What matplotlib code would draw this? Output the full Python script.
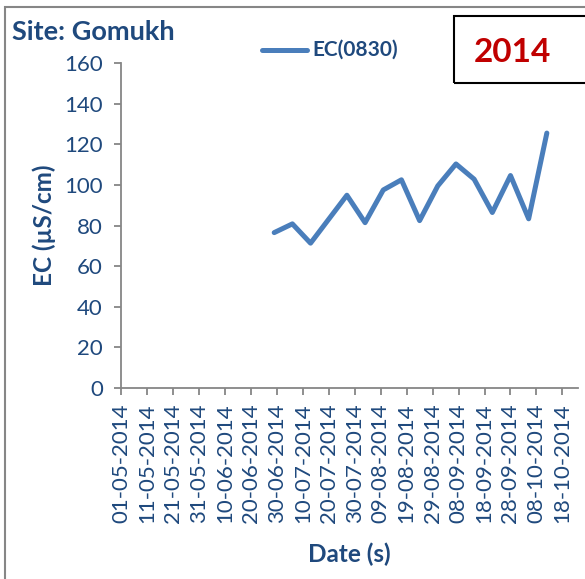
import matplotlib
matplotlib.use("Agg")
import matplotlib.pyplot as plt
import matplotlib.dates as mdates
from matplotlib.patches import Rectangle
from matplotlib.lines import Line2D
import pandas as pd

plt.rcParams['font.family'] = ['Lato', 'DejaVu Sans']

dates = ["2014-06-29", "2014-07-06", "2014-07-13", "2014-07-27", "2014-08-03",
         "2014-08-10", "2014-08-17", "2014-08-24", "2014-08-31", "2014-09-07",
         "2014-09-14", "2014-09-21", "2014-09-28", "2014-10-05", "2014-10-12"]
ec_values = [76.5, 80.8, 71.3, 94.9, 81.4, 97.5, 102.5, 82.4, 99.5, 110.3,
             102.8, 86.4, 104.6, 83.3, 125.5]
tick_dates = pd.date_range("2014-05-01", periods=18, freq="10D")
tick_labels = [d.strftime("%d-%m-%Y") for d in tick_dates]
y_ticks = [0, 20, 40, 60, 80, 100, 120, 140, 160]

TXT = "#1F497D"
LINE = "#4A7EBB"
AXC = "#868686"

W, H = 585, 579
fig = plt.figure(figsize=(W / 100, H / 100), dpi=100)
ax = fig.add_axes([121 / W, 1 - 388 / H, (578 - 121) / W, (388 - 63) / H])

x = pd.to_datetime(dates)
ax.plot(x, ec_values, color=LINE, lw=3.6, solid_joinstyle='round', solid_capstyle='round')

ax.set_xlim(pd.Timestamp("2014-05-01"), pd.Timestamp("2014-10-24"))
ax.set_ylim(0, 160)
ax.set_yticks(y_ticks)
ax.set_xticks(tick_dates)
ax.set_xticklabels(tick_labels, rotation=90)

for s in ["top", "right"]:
    ax.spines[s].set_visible(False)
for s in ["left", "bottom"]:
    ax.spines[s].set_color(AXC)
    ax.spines[s].set_linewidth(1.3)
ax.tick_params(axis='both', colors=AXC, length=5, width=1.3, direction='out')
ax.tick_params(axis='y', labelcolor=TXT, labelsize=16, pad=8)
ax.tick_params(axis='x', labelcolor=TXT, labelsize=16, pad=6)

ax.set_ylabel("EC (µS/cm)", color=TXT, fontsize=17.5, fontweight='bold', labelpad=6)
ax.set_xlabel("Date (s)", color=TXT, fontsize=17.5, fontweight='bold', labelpad=14)

fig.text(12 / W, 1 - 32 / H, "Site: Gomukh", color=TXT, fontsize=19.5,
         fontweight='bold', ha='left', va='center')

fig.add_artist(Line2D([262 / W, 307 / W], [1 - 50 / H, 1 - 50 / H], color=LINE,
                      lw=3.6, solid_capstyle='round'))
fig.text(312 / W, 1 - 50 / H, "EC(0830)", color=TXT, fontsize=15,
         fontweight='bold', ha='left', va='center')

fig.add_artist(Rectangle((454 / W, 1 - 83 / H), 0.3, (83 - 16) / H,
                         transform=fig.transFigure, fill=False,
                         edgecolor='black', lw=1.5))
fig.text(512 / W, 1 - 52 / H, "2014", color="#C00000", fontsize=24,
         fontweight='bold', ha='center', va='center')

fig.add_artist(Rectangle((5 / W, -0.05), 1.2, 1.05 - 7 / H,
                         transform=fig.transFigure, fill=False,
                         edgecolor=AXC, lw=1.5))

fig.savefig("out.png", dpi=100)
